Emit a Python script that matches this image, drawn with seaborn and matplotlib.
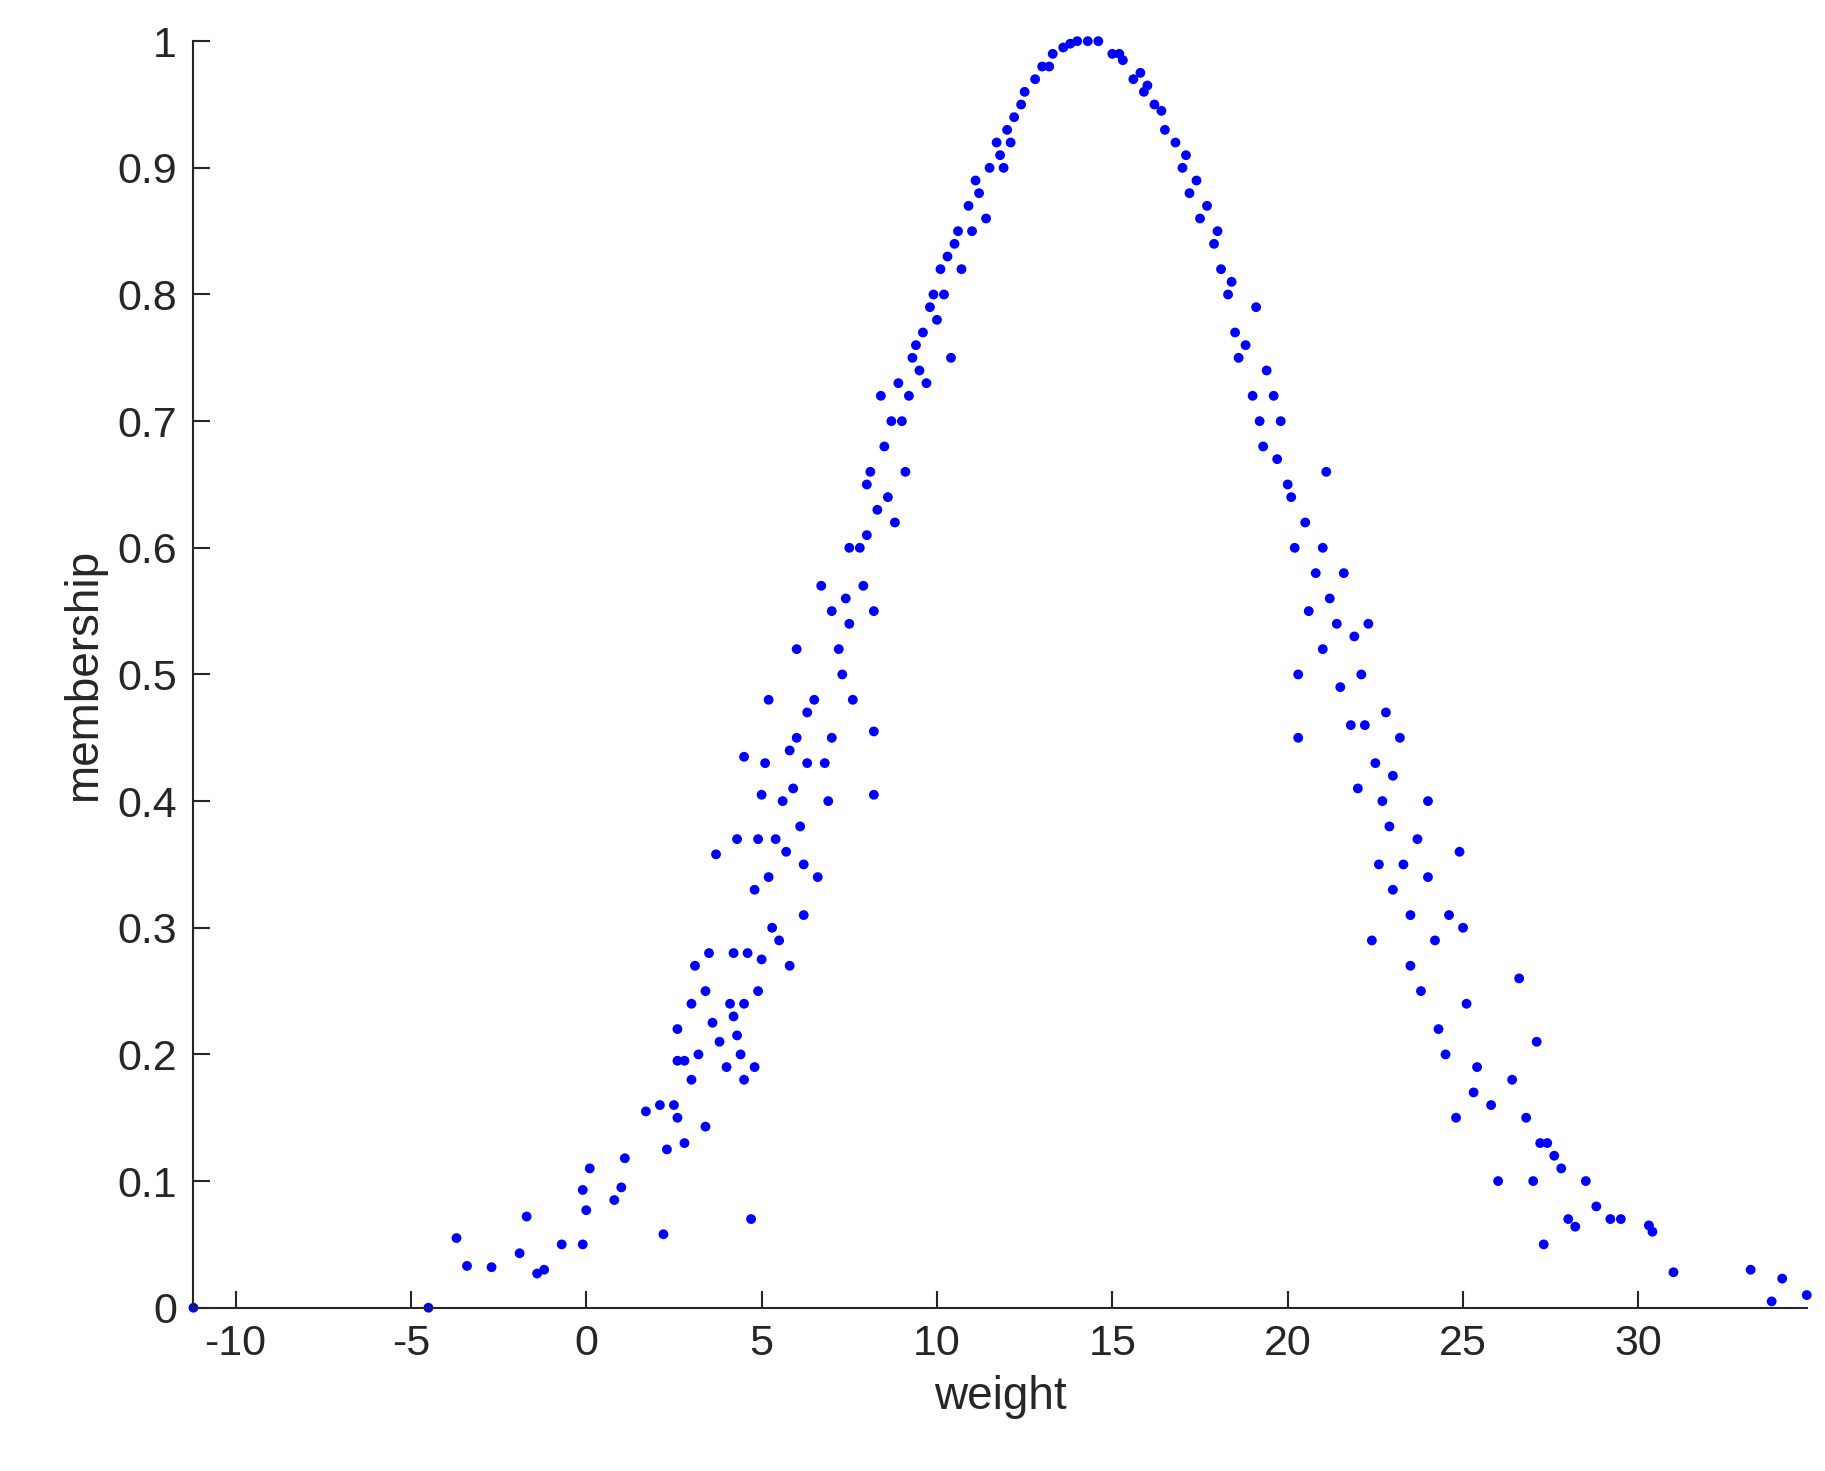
import matplotlib
matplotlib.use("Agg")
import matplotlib.pyplot as plt
import seaborn as sns

# points (left flank, peak, right flank)
weight = [-11.2, -4.5, -3.7, -3.4, -2.7, -1.9, -1.7, -1.4, -1.2, -0.7, -0.1, -0.1, 0, 0.1, 0.8, 1, 1.1,
          1.7, 2.1, 2.2, 2.3, 2.5, 2.6, 2.6, 2.6, 2.8, 2.8, 3, 3, 3.1, 3.2, 3.4, 3.4, 3.5, 3.6, 3.8, 3.7,
          4, 4.1, 4.2, 4.2, 4.3, 4.3, 4.4, 4.5, 4.5, 4.5, 4.6, 4.7, 4.8, 4.8, 4.9, 4.9, 5, 5, 5.1, 5.2,
          5.2, 5.3, 5.4, 5.5, 5.6, 5.7, 5.8, 5.8, 5.9, 6, 6, 6.1, 6.2, 6.2, 6.3, 6.3, 6.5, 6.6, 6.7, 6.8,
          6.9, 7, 7, 7.2, 7.3, 7.4, 7.5, 7.5, 7.6, 7.8, 7.9, 8, 8, 8.1, 8.2, 8.2, 8.2, 8.3, 8.4, 8.5,
          8.6, 8.7, 8.8, 8.9, 9, 9.1, 9.2, 9.3, 9.5, 9.6, 9.7, 9.8, 10, 10.1, 10.2, 10.3, 10.4, 10.5,
          10.7, 10.9, 11, 11.2, 11.4, 11.5, 11.7, 11.9, 12, 12.2, 12.5, 12.8, 13, 13.3, 13.6, 14, 14.3,
          14.6, 15, 15.3, 15.6, 15.9, 16.2, 16.5, 16.8, 17, 17.2, 17.4, 17.5, 17.7, 17.9, 18, 18.1,
          18.3, 18.5, 18.6, 18.8, 19, 19.1, 19.2, 19.3, 19.4, 19.6, 19.7, 19.8, 20, 20.1, 20.2, 20.3,
          20.3, 20.5, 20.6, 20.8, 21, 21, 21.1, 21.2, 21.4, 21.5, 21.6, 21.8, 21.9, 22, 22.1, 22.2,
          22.3, 22.4, 22.5, 22.6, 22.7, 22.8, 22.9, 23, 23, 23.2, 23.3, 23.5, 23.5, 23.7, 23.8, 24, 24,
          24.2, 24.3, 24.5, 24.6, 24.8, 24.9, 25, 25.1, 25.3, 25.4, 25.8, 26, 26.4, 26.6, 26.8, 27,
          27.1, 27.2, 27.3, 27.4, 27.6, 27.8, 28, 28.2, 28.5, 28.8, 29.2, 29.5, 30.3, 30.4, 31, 33.2,
          33.8, 34.1, 34.8,
          10.6, 11.1, 11.8, 12.4, 13.2, 13.8, 15.2, 15.8, 16.4, 17.1, 9.4, 9.9, 12.1, 16.0, 18.4]
membership = [0, 0, 0.055, 0.033, 0.032, 0.043, 0.072, 0.027, 0.03, 0.05, 0.05, 0.093, 0.077, 0.11,
              0.085, 0.095, 0.118, 0.155, 0.16, 0.058, 0.125, 0.16, 0.15, 0.22, 0.195, 0.195, 0.13,
              0.24, 0.18, 0.27, 0.2, 0.25, 0.143, 0.28, 0.225, 0.21, 0.358, 0.19, 0.24, 0.28, 0.23,
              0.37, 0.215, 0.2, 0.18, 0.24, 0.435, 0.28, 0.07, 0.19, 0.33, 0.37, 0.25, 0.405, 0.275,
              0.43, 0.48, 0.34, 0.3, 0.37, 0.29, 0.4, 0.36, 0.44, 0.27, 0.41, 0.52, 0.45, 0.38, 0.35,
              0.31, 0.47, 0.43, 0.48, 0.34, 0.57, 0.43, 0.4, 0.45, 0.55, 0.52, 0.5, 0.56, 0.6, 0.54,
              0.48, 0.6, 0.57, 0.61, 0.65, 0.66, 0.55, 0.455, 0.405, 0.63, 0.72, 0.68, 0.64, 0.7, 0.62,
              0.73, 0.7, 0.66, 0.72, 0.75, 0.74, 0.77, 0.73, 0.79, 0.78, 0.82, 0.8, 0.83, 0.75, 0.84,
              0.82, 0.87, 0.85, 0.88, 0.86, 0.9, 0.92, 0.9, 0.93, 0.94, 0.96, 0.97, 0.98, 0.99, 0.995,
              1.0, 1.0, 1.0, 0.99, 0.985, 0.97, 0.96, 0.95, 0.93, 0.92, 0.9, 0.88, 0.89, 0.86, 0.87,
              0.84, 0.85, 0.82, 0.8, 0.77, 0.75, 0.76, 0.72, 0.79, 0.7, 0.68, 0.74, 0.72, 0.67, 0.7,
              0.65, 0.64, 0.6, 0.5, 0.45, 0.62, 0.55, 0.58, 0.6, 0.52, 0.66, 0.56, 0.54, 0.49, 0.58,
              0.46, 0.53, 0.41, 0.5, 0.46, 0.54, 0.29, 0.43, 0.35, 0.4, 0.47, 0.38, 0.33, 0.42, 0.45,
              0.35, 0.31, 0.27, 0.37, 0.25, 0.34, 0.4, 0.29, 0.22, 0.2, 0.31, 0.15, 0.36, 0.3, 0.24,
              0.17, 0.19, 0.16, 0.1, 0.18, 0.26, 0.15, 0.1, 0.21, 0.13, 0.05, 0.13, 0.12, 0.11, 0.07,
              0.064, 0.1, 0.08, 0.07, 0.07, 0.065, 0.06, 0.028, 0.03, 0.005, 0.023, 0.01,
              0.85, 0.89, 0.91, 0.95, 0.98, 0.998, 0.99, 0.975, 0.945, 0.91, 0.76, 0.8, 0.92, 0.965, 0.81]

sns.set_style("ticks")
plt.rcParams['font.family'] = ['Liberation Sans', 'DejaVu Sans']
plt.rcParams['axes.unicode_minus'] = False

fig = plt.figure(figsize=(18.25, 14.71), dpi=100)
ax = fig.add_axes([0.106, 0.111, 0.884, 0.861])
sns.scatterplot(x=weight, y=membership, ax=ax, color=(0, 0, 1), s=50, edgecolor='none', clip_on=False)

ax.set_xlim(-11.2, 34.8)
ax.set_ylim(0, 1)
ax.set_xticks(range(-10, 35, 5))
ax.set_yticks([i / 10 for i in range(11)])
ax.set_yticklabels(['0', '0.1', '0.2', '0.3', '0.4', '0.5', '0.6', '0.7', '0.8', '0.9', '1'])
ax.tick_params(direction='in', length=12, width=1.5, labelsize=31, colors='#262626', pad=12)
sns.despine(ax=ax)
for s in ['left', 'bottom']:
    ax.spines[s].set_linewidth(1.5)
    ax.spines[s].set_color('#262626')
ax.set_xlabel('weight', fontsize=33, color='#262626', labelpad=8)
ax.set_ylabel('membership', fontsize=33, color='#262626', labelpad=8)

fig.savefig('out.png', dpi=100)
